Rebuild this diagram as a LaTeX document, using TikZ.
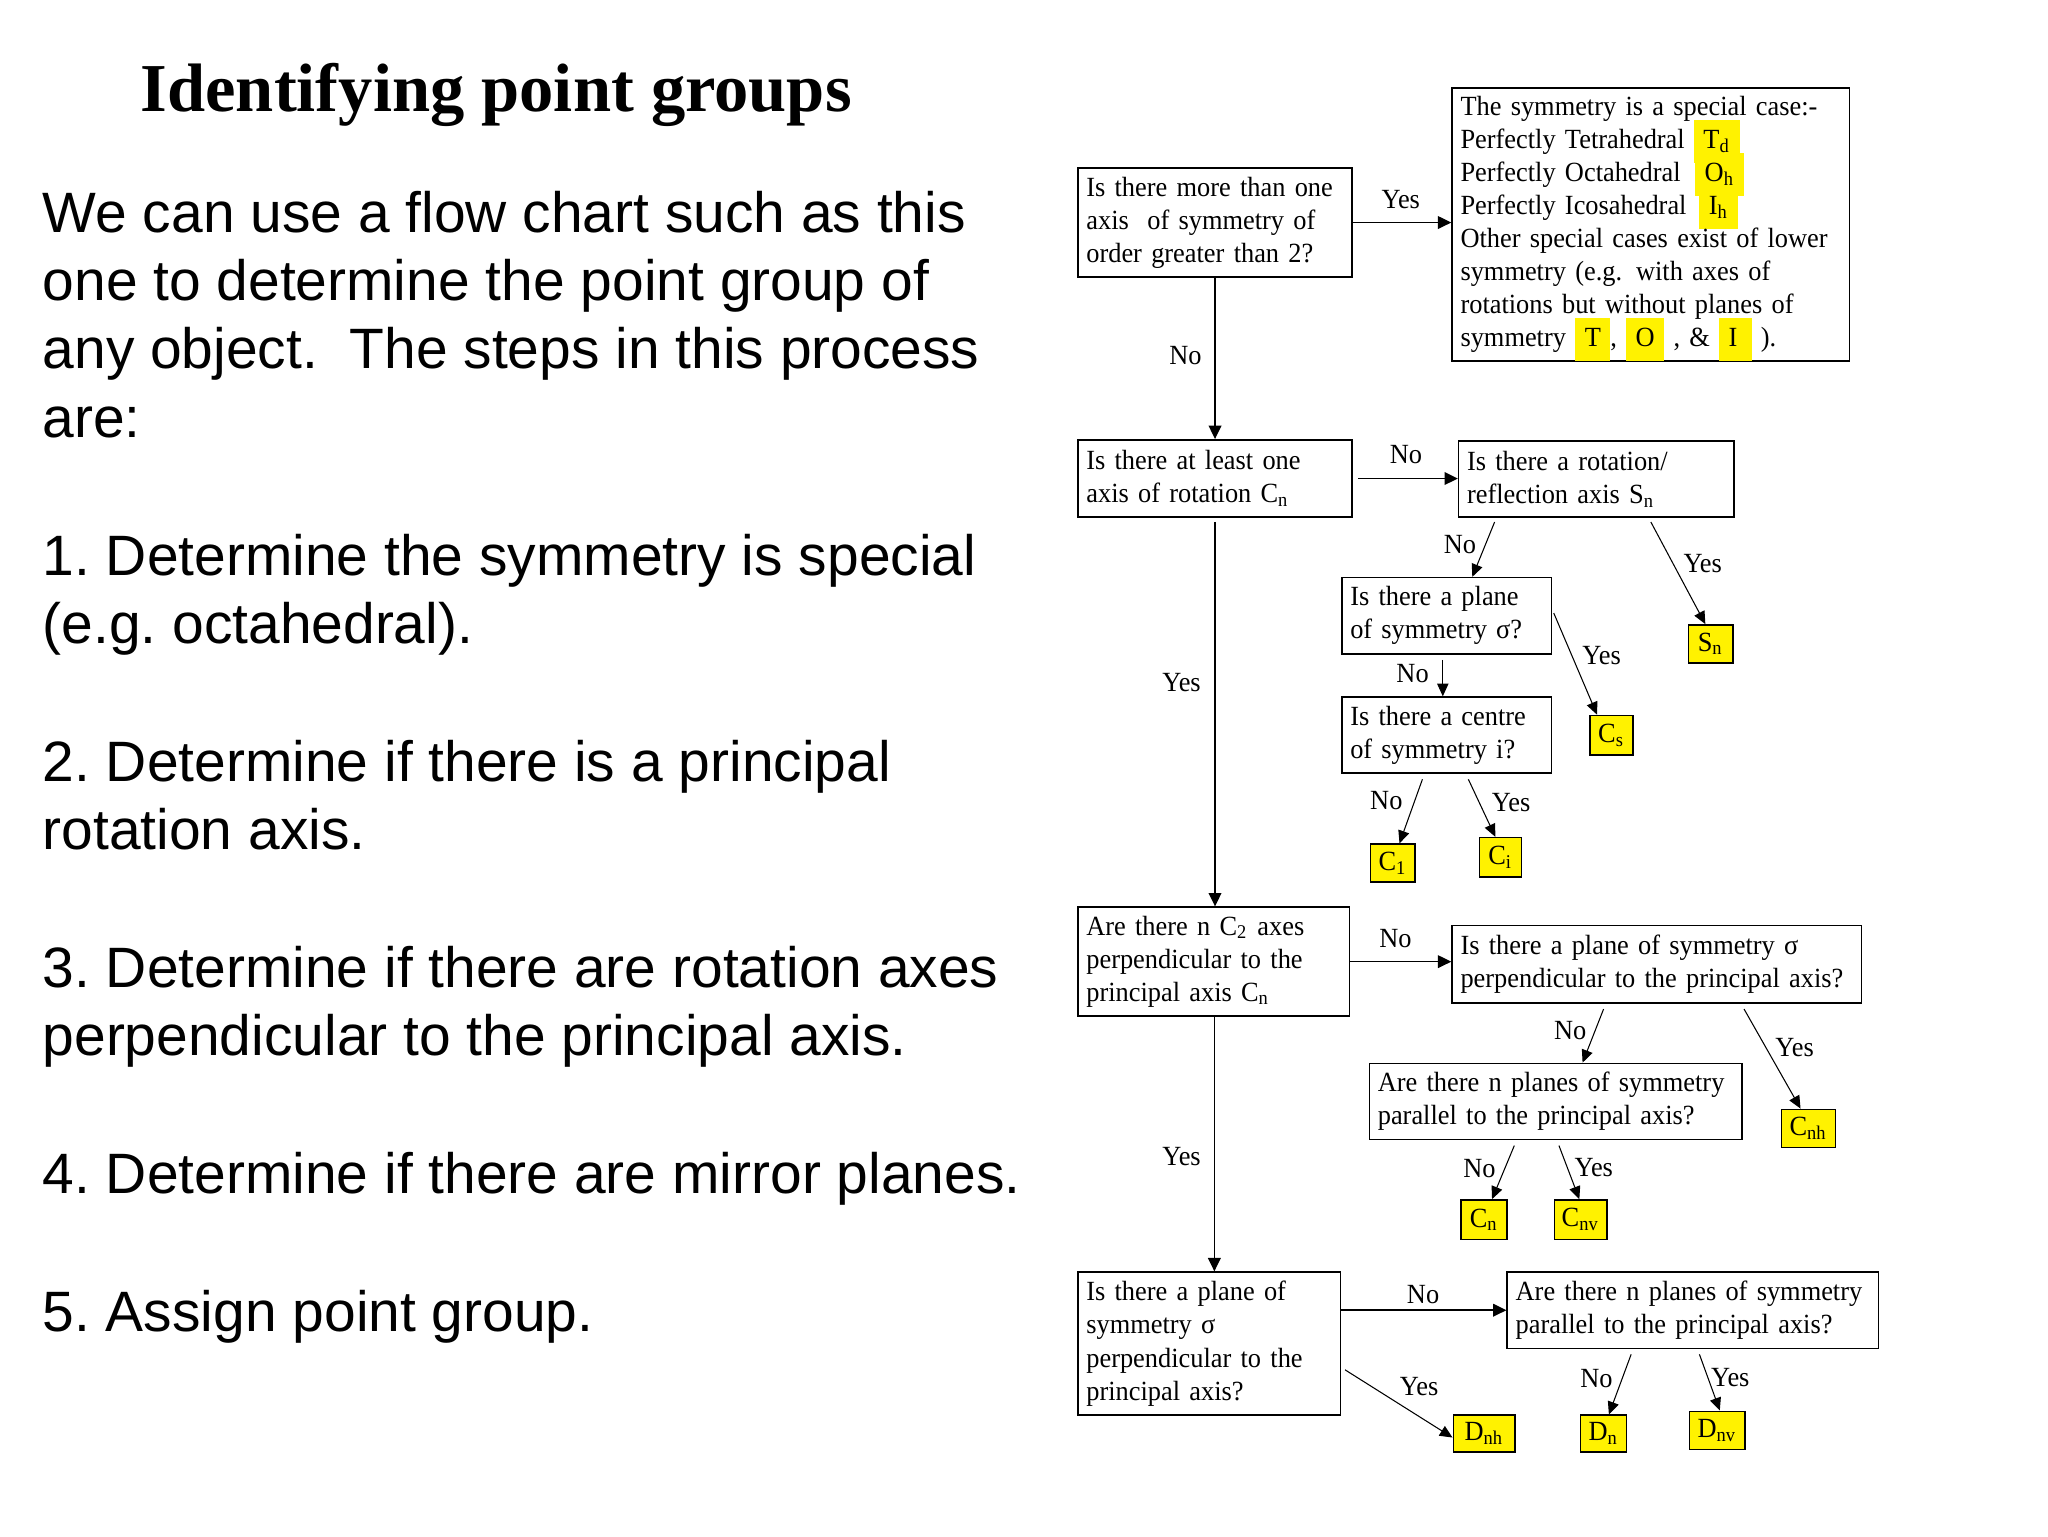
\documentclass[tikz,border=0pt]{standalone}
\usepackage{fontspec}
\setmainfont{Liberation Serif}
\newfontfamily\bodyfont{Liberation Sans}
\newfontfamily\chartfont[FakeStretch=0.95]{Liberation Serif}
\usetikzlibrary{arrows.meta,calc}
\newdimen\dpx \dpx=0.3735pt
\newcommand\chartsize{\chartfont\fontsize{7.9}{9.4}\selectfont\hyphenpenalty=10000 }
\newcommand\hilite[1]{\smash{\setlength{\fboxsep}{1.5pt}\colorbox{yellow}{\rule[-2.6pt]{0pt}{9.2pt}\hspace{1.2pt}#1\hspace{1.2pt}}}}
\tikzset{
  title/.style={anchor=base, inner sep=0pt, font=\bfseries\fontsize{19.5}{23}\selectfont},
  body/.style={anchor=base west, inner sep=0pt, font=\bodyfont\frenchspacing\fontsize{16.2}{19.6}\selectfont},
  qbox/.style={draw, line width=0.45pt, align=left, inner xsep=2.4pt, inner ysep=0pt, font=\chartsize},
  pgbox/.style={draw, line width=0.45pt, fill=yellow, inner sep=0pt, font=\chartsize},
  lbl/.style={inner sep=0pt, font=\chartsize},
  mainarr/.style={line width=0.45pt, -{Triangle[length=3.8pt,width=3.6pt]}},
  sidearr/.style={line width=0.3pt, -{Triangle[length=3.6pt,width=3.2pt]}},
}
\begin{document}
\begin{tikzpicture}[x=0.3735pt, y=-0.3735pt]
\useasboundingbox[fill=white] (0,0) rectangle (1560,1170);
% left column
\node[title] (title) at (378,85) {Identifying point groups};
\node[body] (intro1) at (32,177) {We can use a flow chart such as this};
\node[body] (intro2) at (32,229) {one to determine the point group of};
\node[body] (intro3) at (32,281) {any object.\ \ The steps in this process};
\node[body] (intro4) at (32,333) {are:};
\node[body] (step1a) at (32,438) {1. Determine the symmetry is special};
\node[body] (step1b) at (32,490) {(e.g. octahedral).};
\node[body] (step2a) at (32,595) {2. Determine if there is a principal};
\node[body] (step2b) at (32,647) {rotation axis.};
\node[body] (step3a) at (32,752) {3. Determine if there are rotation axes};
\node[body] (step3b) at (32,804) {perpendicular to the principal axis.};
\node[body] (step4) at (32,909) {4. Determine if there are mirror planes.};
\node[body] (step5) at (32,1014) {5. Assign point group.};
\begin{scope}[shift={(-4,-2)}]
% questions
\node[qbox, text width=196\dpx, minimum height=83\dpx] (morethanone) at (929.5,171.5) {Is there more than one\\axis\ \ of symmetry of\\order greater than 2?};
\node[qbox, text width=290\dpx, minimum height=208\dpx] (special) at (1261.5,173) {The symmetry is a special case:-\\Perfectly Tetrahedral \hilite{T\textsubscript{d}}\\Perfectly Octahedral \hspace{1.5pt}\hilite{O\textsubscript{h}}\\Perfectly Icosahedral \hspace{1pt}\hilite{I\textsubscript{h}}\\Other special cases exist of lower\\symmetry (e.g. with axes of\\rotations but without planes of\\symmetry \hilite{T}, \hilite{O} , \& \hilite{I\,} ).};
\node[qbox, text width=196\dpx, minimum height=59\dpx] (hasCn) at (929.5,366.5) {Is there at least one\\axis of rotation C\textsubscript{n}};
\node[qbox, text width=197\dpx, minimum height=58\dpx] (hasSn) at (1220,367) {Is there a rotation/\\reflection axis S\textsubscript{n}};
\node[qbox, text width=147\dpx, minimum height=58\dpx] (hasplane) at (1106,471) {Is there a plane\\of symmetry σ?};
\node[qbox, text width=147\dpx, minimum height=58\dpx] (hascentre) at (1106,562) {Is there a centre\\of symmetry i?};
\node[qbox, text width=194\dpx, minimum height=83\dpx] (nC2) at (928.5,734.5) {Are there n C\textsubscript{2} axes\\perpendicular to the\\principal axis C\textsubscript{n}};
\node[qbox, text width=299\dpx, minimum height=59\dpx] (sighC) at (1266,736.5) {Is there a plane of symmetry σ\\perpendicular to the principal axis?};
\node[qbox, text width=271\dpx, minimum height=58\dpx] (sigvC) at (1189,841) {Are there n planes of symmetry\\parallel to the principal axis?};
\node[qbox, text width=187\dpx, minimum height=109\dpx] (sighD) at (925,1025.5) {Is there a plane of\\symmetry σ\\perpendicular to the\\principal axis?};
\node[qbox, text width=270\dpx, minimum height=58\dpx] (sigvD) at (1293.5,1000) {Are there n planes of symmetry\\parallel to the principal axis?};
% point groups
\node[pgbox, minimum width=34\dpx, minimum height=29\dpx] (Sn) at (1307,492.5) {S\textsubscript{n}};
\node[pgbox, minimum width=33\dpx, minimum height=30\dpx] (Cs) at (1231.5,562) {C\textsubscript{s}};
\node[pgbox, minimum width=34\dpx, minimum height=29\dpx] (C1) at (1065,659.5) {C\textsubscript{1}};
\node[pgbox, minimum width=32\dpx, minimum height=30\dpx] (Ci) at (1147,655) {C\textsubscript{i}};
\node[pgbox, minimum width=41\dpx, minimum height=29\dpx] (Cnh) at (1381.5,861.5) {C\textsubscript{nh}};
\node[pgbox, minimum width=35\dpx, minimum height=30\dpx] (Cn) at (1134.5,931) {C\textsubscript{n}};
\node[pgbox, minimum width=40\dpx, minimum height=30\dpx] (Cnv) at (1208,931) {C\textsubscript{nv}};
\node[pgbox, minimum width=47\dpx, minimum height=28\dpx] (Dnh) at (1134.5,1094) {D\textsubscript{nh}};
\node[pgbox, minimum width=35\dpx, minimum height=28\dpx] (Dn) at (1225.5,1094) {D\textsubscript{n}};
\node[pgbox, minimum width=42\dpx, minimum height=29\dpx] (Dnv) at (1312,1091.5) {D\textsubscript{nv}};
% main line
\draw[mainarr] (morethanone.east) -- (morethanone.east -| special.west);
\draw[mainarr] (morethanone) -- (hasCn);
\draw[mainarr] ($(hasCn.east)+(4,0)$) -- (hasCn.east -| hasSn.west);
\draw[mainarr] ($(hasCn.south)+(0,3)$) -- (hasCn.south |- nC2.north);
\draw[mainarr] (nC2.east) -- (nC2.east -| sighC.west);
\draw[mainarr] ($(nC2.south)+(0.5,0)$) -- ($(nC2.south |- sighD.north)+(0.5,0)$);
\draw[mainarr] (sigvD.west -| sighD.east) -- (sigvD.west);
% branches
\draw[sidearr] ($(hasSn.south west)+(28,3)$) -- ($(hasplane.north west)+(100,0)$);
\draw[sidearr] ($(hasSn.south west)+(147,3)$) -- ($(Sn.north)+(-4,0)$);
\draw[sidearr] ($(hasplane.south)+(-3,4)$) -- ($(hascentre.north)+(-3,0)$);
\draw[sidearr] ($(hasplane.east)+(1,-2)$) -- ($(Cs.north)+(-11,0)$);
\draw[sidearr] ($(hascentre.south west)+(62,4)$) -- ($(C1.north)+(5,0)$);
\draw[sidearr] ($(hascentre.south west)+(97,4)$) -- ($(Ci.north)+(-4,0)$);
\draw[sidearr] ($(sighC.south west)+(116,4)$) -- ($(sigvC.north west)+(163,0)$);
\draw[sidearr] ($(sighC.south west)+(223,4)$) -- ($(Cnh.north)+(-6,0)$);
\draw[sidearr] ($(sigvC.south west)+(111,4)$) -- ($(Cn.north)+(6,0)$);
\draw[sidearr] ($(sigvC.south west)+(145,4)$) -- ($(Cnv.north)+(-1,0)$);
\draw[sidearr] ($(sighD.north east)+(3,75)$) -- ($(Dnh.west)+(0,3)$);
\draw[sidearr] ($(sigvD.south west)+(95,4)$) -- ($(Dn.north)+(4,0)$);
\draw[sidearr] ($(sigvD.south west)+(147,4)$) -- ($(Dnv.north)+(2,0)$);
% answers
\node[lbl] (yes1) at (1071,154) {Yes};
\node[lbl] (no1) at (907,273) {No};
\node[lbl] (no2) at (1075,348) {No};
\node[lbl] (no3) at (1116,417) {No};
\node[lbl] (yes3) at (1301,431) {Yes};
\node[lbl] (no4) at (1080,515) {No};
\node[lbl] (yes4) at (1224,501) {Yes};
\node[lbl] (no5) at (1060,612) {No};
\node[lbl] (yes5) at (1155,613) {Yes};
\node[lbl] (yes2) at (904,522) {Yes};
\node[lbl] (no6) at (1067,717) {No};
\node[lbl] (no7) at (1200,787) {No};
\node[lbl] (yes7) at (1371,800) {Yes};
\node[lbl] (no8) at (1131,892) {No};
\node[lbl] (yes8) at (1218,891) {Yes};
\node[lbl] (yes6) at (904,883) {Yes};
\node[lbl] (no9) at (1088,988) {No};
\node[lbl] (yes9) at (1085,1058) {Yes};
\node[lbl] (no10) at (1220,1052) {No};
\node[lbl] (yes10) at (1322,1051) {Yes};
\end{scope}
\end{tikzpicture}
\end{document}
